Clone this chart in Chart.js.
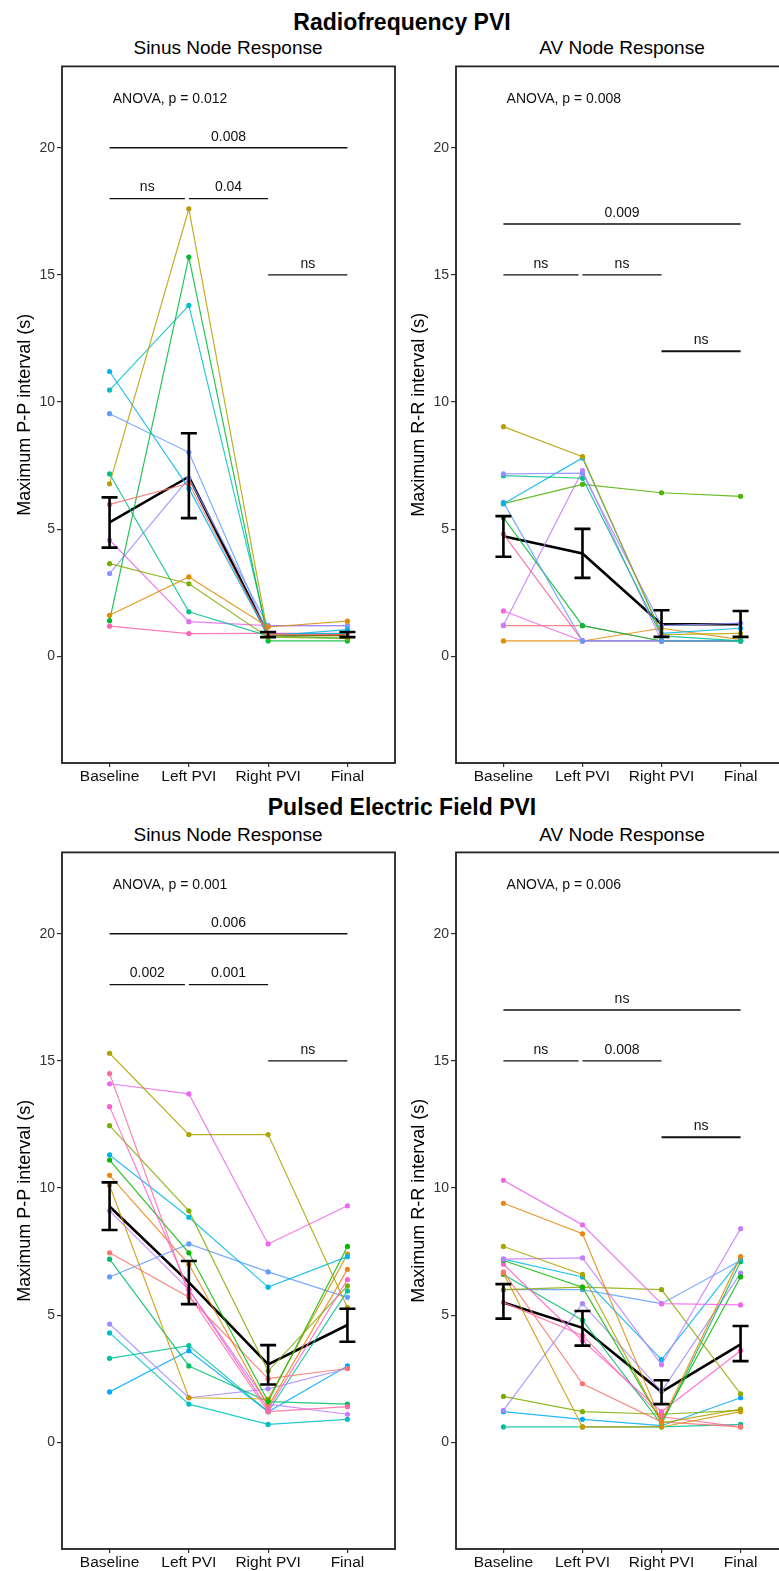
<!DOCTYPE html>
<html>
<head>
<meta charset="utf-8">
<script src="https://cdn.jsdelivr.net/npm/chart.js@4.4.1/dist/chart.umd.min.js"></script>
<style>
html, body { margin: 0; padding: 0; width: 779px; height: 1571px; overflow: hidden; background: #fff; }
#page { position: relative; width: 779px; height: 1571px; overflow: hidden; font-family: "Liberation Sans", Arial, sans-serif; color: #000; }
.title { position: absolute; font-weight: bold; font-size: 23px; transform: translate(-50%, -50%); white-space: nowrap; }
.sub { position: absolute; font-size: 19px; transform: translate(-50%, -50%); white-space: nowrap; }
canvas { position: absolute; }
</style>
</head>
<body>
<div id="page">
  <div class="title" style="left:402px; top:22px;">Radiofrequency PVI</div>
  <div class="sub" style="left:228px; top:48px;">Sinus Node Response</div>
  <div class="sub" style="left:622px; top:48px;">AV Node Response</div>
  <div class="title" style="left:402px; top:807px;">Pulsed Electric Field PVI</div>
  <div class="sub" style="left:228px; top:835px;">Sinus Node Response</div>
  <div class="sub" style="left:622px; top:835px;">AV Node Response</div>

  <canvas id="rf-sinus" width="400" height="737" style="left:0px; top:56px;"></canvas>
  <canvas id="rf-av" width="400" height="737" style="left:394px; top:56px;"></canvas>
  <canvas id="pef-sinus" width="400" height="737" style="left:0px; top:842px;"></canvas>
  <canvas id="pef-av" width="400" height="737" style="left:394px; top:842px;"></canvas>
</div>

<script>
// categories and ticks
const stages = ['Baseline', 'Left PVI', 'Right PVI', 'Final'];
const yTicks = [0, 5, 10, 15, 20];

// comparison brackets: from stage / to stage
const bracketFrom = [0, 0, 1, 2];
const bracketTo = [3, 0.95, 2, 3];

// Radiofrequency PVI - sinus node (one row per patient)
const rfSinus = [
    [5.97, 6.8, 0.85, 0.85],
    [1.61, 3.12, 1.15, 1.38],
    [6.78, 17.6, 0.8, 0.8],
    [3.64, 2.85, 0.75, 0.7],
    [1.4, 15.7, 0.6, 0.6],
    [7.17, 1.75, 0.8, 0.7],
    [10.47, 13.8, 0.85, 0.9],
    [11.2, 6.6, 0.8, 1.05],
    [9.54, 8.02, 0.85, 0.9],
    [3.25, 7.0, 1.2, 1.2],
    [4.57, 1.36, 1.2, 1.2],
    [1.18, 0.89, 0.9, 0.9]
];
const rfSinusMean = [5.26, 7.06, 0.85, 0.85];
const rfSinusLow = [4.27, 5.43, 0.75, 0.75];
const rfSinusHigh = [6.25, 8.77, 0.95, 0.95];
const rfSinusBracketY = [20, 18, 18, 15];
const rfSinusBracketText = ['0.008', 'ns', '0.04', 'ns'];
const rfSinusAnova = 'ANOVA, p = 0.012';

// Radiofrequency PVI - AV node
const rfAv = [
    [9.03, 7.85, 0.85, 0.9],
    [7.17, 7.2, 1.2, 1.3],
    [7.1, 7.0, 0.8, 0.6],
    [6.0, 7.8, 0.9, 1.1],
    [6.0, 6.76, 6.43, 6.29],
    [6.05, 0.6, 0.6, 0.6],
    [5.45, 1.2, 0.6, 0.6],
    [4.8, 0.6, 0.6, 0.6],
    [1.78, 0.6, 0.6, 0.6],
    [1.22, 7.3, 0.6, 0.6],
    [1.2, 1.2, 0.6, 0.6],
    [0.6, 0.6, 1.1, 0.65]
];
const rfAvMean = [4.72, 4.04, 1.26, 1.26];
const rfAvLow = [3.91, 3.08, 0.76, 0.76];
const rfAvHigh = [5.51, 5.01, 1.81, 1.78];
const rfAvBracketY = [17, 15, 15, 12];
const rfAvBracketText = ['0.009', 'ns', 'ns', 'ns'];
const rfAvAnova = 'ANOVA, p = 0.008';

// Pulsed electric field PVI - sinus node
const pefSinus = [
    [15.3, 12.1, 12.1, 5.3],
    [14.5, 5.8, 1.2, 1.4],
    [14.1, 13.7, 7.8, 9.3],
    [13.2, 6.0, 1.3, 6.4],
    [12.45, 9.1, 2.8, 6.15],
    [11.3, 8.85, 6.1, 7.3],
    [11.1, 7.45, 1.6, 7.7],
    [10.5, 7.0, 1.4, 6.8],
    [10.1, 1.75, 1.7, 7.4],
    [9.1, 6.0, 1.5, 1.1],
    [7.45, 5.7, 2.5, 2.9],
    [7.2, 3.0, 1.6, 1.5],
    [6.5, 7.8, 6.7, 5.7],
    [4.65, 1.75, 2.1, 2.9],
    [4.3, 1.5, 0.7, 0.9],
    [3.3, 3.8, 1.2, 5.95],
    [1.98, 3.6, 1.2, 3.0]
];
const pefSinusMean = [9.27, 6.29, 3.06, 4.61];
const pefSinusLow = [8.35, 5.43, 2.27, 3.95];
const pefSinusHigh = [10.22, 7.13, 3.82, 5.25];
const pefSinusBracketY = [20, 18, 18, 15];
const pefSinusBracketText = ['0.006', '0.002', '0.001', 'ns'];
const pefSinusAnova = 'ANOVA, p = 0.001';

// Pulsed electric field PVI - AV node
const pefAv = [
    [10.3, 8.55, 5.45, 5.4],
    [9.4, 8.2, 0.8, 7.3],
    [7.7, 6.6, 0.75, 1.3],
    [7.2, 7.25, 3.05, 8.4],
    [7.2, 6.5, 3.25, 7.2],
    [7.15, 6.1, 0.8, 6.5],
    [7.0, 4.0, 1.2, 3.6],
    [6.7, 2.3, 0.8, 0.6],
    [6.65, 0.6, 0.6, 1.2],
    [6.6, 4.8, 0.7, 7.1],
    [6.0, 6.1, 6.0, 1.9],
    [6.0, 6.0, 5.45, 7.15],
    [5.5, 4.2, 1.0, 0.6],
    [1.8, 1.2, 1.1, 1.25],
    [1.25, 5.45, 2.0, 6.65],
    [1.2, 0.9, 0.65, 1.75],
    [0.6, 0.6, 0.6, 0.7]
];
const pefAvMean = [5.5, 4.5, 1.98, 3.85];
const pefAvLow = [4.86, 3.8, 1.5, 3.19];
const pefAvHigh = [6.22, 5.16, 2.44, 4.57];
const pefAvBracketY = [17, 15, 15, 12];
const pefAvBracketText = ['ns', 'ns', '0.008', 'ns'];
const pefAvAnova = 'ANOVA, p = 0.006';

// colours
const rfColors = ['#F8766D', '#DE8C00', '#B79F00', '#7CAE00', '#00BA38', '#00C08B',
    '#00BFC4', '#00B4F0', '#619CFF', '#8F91FF', '#E66BF3', '#FF64B0'];
const rfAvColors = ['#B79F00', '#8F91FF', '#00C08B', '#00B4F0', '#4DB300', '#619CFF',
    '#00BA38', '#F564A0', '#F564E3', '#C77CFF', '#F8766D', '#DE8C00'];
const pefSinusColors = ['#ABA300', '#FF68A1', '#ED68ED', '#FF61CC', '#7CAE00', '#00B8E7',
    '#0CB702', '#E68613', '#CD9600', '#C77CFF', '#F8766D', '#00BE67', '#619CFF',
    '#A58AFF', '#00BFC4', '#00C19A', '#00A9FF'];
const pefAvColors = ['#ED68ED', '#E68613', '#ABA300', '#C77CFF', '#00B8E7', '#0CB702',
    '#FF61CC', '#F8766D', '#CD9600', '#00BE67', '#8EAB00', '#619CFF', '#FF68A1',
    '#7CAE00', '#A58AFF', '#00A9FF', '#00C19A'];

const FONT = '"Liberation Sans", Arial, sans-serif';
Chart.defaults.font.family = FONT;

function withAlpha(hex, a) {
    const n = parseInt(hex.slice(1), 16);
    return 'rgba(' + (n >> 16) + ',' + ((n >> 8) & 255) + ',' + (n & 255) + ',' + a + ')';
}

// error bars, bracket labels, anova text and the panel frame
const annotatePlugin = {
    id: 'annotate',
    afterDatasetsDraw(chart, args, opts) {
        const ctx = chart.ctx;
        const xs = chart.scales.x, ys = chart.scales.y;
        ctx.save();
        // error bars
        ctx.strokeStyle = '#000';
        ctx.lineWidth = 2.6;
        opts.mean.forEach(function (m, i) {
            const px = xs.getPixelForValue(i);
            const lo = ys.getPixelForValue(opts.low[i]);
            const hi = ys.getPixelForValue(opts.high[i]);
            ctx.beginPath();
            ctx.moveTo(px, lo); ctx.lineTo(px, hi);
            ctx.moveTo(px - 8, lo); ctx.lineTo(px + 8, lo);
            ctx.moveTo(px - 8, hi); ctx.lineTo(px + 8, hi);
            ctx.stroke();
        });
        // bracket labels
        ctx.fillStyle = '#111';
        ctx.font = '14px ' + FONT;
        ctx.textAlign = 'center';
        ctx.textBaseline = 'middle';
        opts.bracketText.forEach(function (t, k) {
            const px = xs.getPixelForValue((bracketFrom[k] + bracketTo[k]) / 2);
            const py = ys.getPixelForValue(opts.bracketY[k]) - 11;
            ctx.fillText(t, px, py);
        });
        // anova
        ctx.textAlign = 'left';
        ctx.fillText(opts.anova, xs.getPixelForValue(0.04), ys.getPixelForValue(21.9));
        // frame
        const a = chart.chartArea;
        ctx.strokeStyle = '#222';
        ctx.lineWidth = 1.8;
        ctx.strokeRect(a.left, a.top, a.right - a.left, a.bottom - a.top);
        ctx.restore();
    }
};

function makePanel(id, subjects, colors, mean, low, high, yLabel, bracketY, bracketText, anova, rightPad) {
    const datasets = [];
    subjects.forEach(function (row, r) {
        datasets.push({
            data: row.map(function (v, i) { return { x: i, y: v }; }),
            borderColor: withAlpha(colors[r % colors.length], 0.85),
            backgroundColor: colors[r % colors.length],
            borderWidth: 1.2,
            pointRadius: 2.6,
            pointBorderWidth: 0,
            tension: 0
        });
    });
    datasets.push({
        data: mean.map(function (v, i) { return { x: i, y: v }; }),
        borderColor: '#000',
        borderWidth: 2.6,
        pointRadius: 0,
        tension: 0
    });
    bracketY.forEach(function (yv, k) {
        datasets.push({
            data: [{ x: bracketFrom[k], y: yv }, { x: bracketTo[k], y: yv }],
            borderColor: '#111',
            borderWidth: k === 3 && yv === 12 ? 2 : 1.3,
            pointRadius: 0
        });
    });

    new Chart(document.getElementById(id).getContext('2d'), {
        type: 'line',
        data: { datasets: datasets },
        options: {
            responsive: false,
            animation: false,
            devicePixelRatio: 1,
            layout: { padding: { top: 10, right: rightPad, bottom: 0, left: 0 } },
            plugins: {
                legend: { display: false },
                tooltip: { enabled: false },
                annotate: { mean: mean, low: low, high: high, bracketY: bracketY, bracketText: bracketText, anova: anova }
            },
            scales: {
                x: {
                    type: 'linear',
                    min: -0.6,
                    max: 3.6,
                    afterBuildTicks: function (s) { s.ticks = stages.map(function (_, i) { return { value: i }; }); },
                    afterFit: function (s) { s.height = 30; },
                    ticks: {
                        callback: function (v, i) { return stages[i]; },
                        color: '#111',
                        font: { size: 15.5 },
                        padding: 0,
                        maxRotation: 0,
                        autoSkip: false
                    },
                    grid: { drawOnChartArea: false, drawTicks: true, tickLength: 4, color: '#333', lineWidth: 1.2 },
                    border: { display: false }
                },
                y: {
                    min: -4.2,
                    max: 23.2,
                    afterBuildTicks: function (s) { s.ticks = yTicks.map(function (v) { return { value: v }; }); },
                    afterFit: function (s) { s.width = 62; },
                    ticks: { color: '#333', font: { size: 14 }, padding: 2 },
                    grid: { drawOnChartArea: false, drawTicks: true, tickLength: 5, color: '#333', lineWidth: 1.2 },
                    border: { display: false },
                    title: {
                        display: true,
                        text: yLabel,
                        color: '#000',
                        font: { size: 18 },
                        padding: { top: 14, bottom: 0 }
                    }
                }
            }
        },
        plugins: [annotatePlugin]
    });
}

document.addEventListener("DOMContentLoaded", function () {
    makePanel('rf-sinus', rfSinus, rfColors, rfSinusMean, rfSinusLow, rfSinusHigh,
        'Maximum P-P interval (s)', rfSinusBracketY, rfSinusBracketText, rfSinusAnova, 5);
    makePanel('rf-av', rfAv, rfAvColors, rfAvMean, rfAvLow, rfAvHigh,
        'Maximum R-R interval (s)', rfAvBracketY, rfAvBracketText, rfAvAnova, 6);
    makePanel('pef-sinus', pefSinus, pefSinusColors, pefSinusMean, pefSinusLow, pefSinusHigh,
        'Maximum P-P interval (s)', pefSinusBracketY, pefSinusBracketText, pefSinusAnova, 5);
    makePanel('pef-av', pefAv, pefAvColors, pefAvMean, pefAvLow, pefAvHigh,
        'Maximum R-R interval (s)', pefAvBracketY, pefAvBracketText, pefAvAnova, 6);
});
</script>
</body>
</html>
